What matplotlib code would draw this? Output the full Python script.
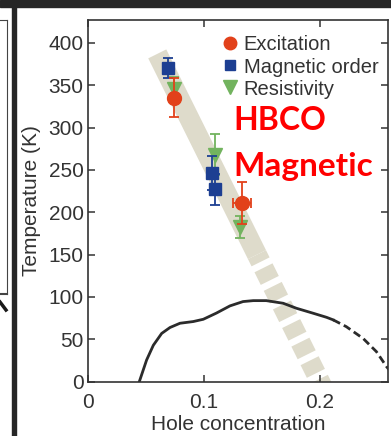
import matplotlib.pyplot as plt
from matplotlib.lines import Line2D
from matplotlib.patches import Rectangle

# Measured points (hole concentration p, temperature T in K)
exc_p = [0.074, 0.133]
exc_T = [335, 211]
exc_Terr = [23, 25]
exc_perr = [0.0, 0.008]

mag_p = [0.069, 0.107, 0.110]
mag_T = [370, 246, 227]
mag_Terr = [12, 20, 18]

res_p = [0.074, 0.110, 0.131]
res_T = [345, 268, 183]
res_Terr = [15, 24, 13]

# Superconducting dome Tc(p), solid part and extrapolated part
tc_p = [0.0445, 0.0508, 0.0566, 0.0638, 0.071, 0.0796, 0.091, 0.0997, 0.111,
        0.1227, 0.134, 0.1428, 0.154, 0.1686, 0.180, 0.1945, 0.206, 0.2117]
tc_T = [0, 25.6, 43, 57, 64, 69, 71, 73.7, 81, 89.5, 94.6, 95.7, 95.7, 92.6,
        86.7, 80.8, 76, 73]
tc_ext_p = [0.2117, 0.223, 0.2376, 0.249, 0.2578, 0.260]
tc_ext_T = [73, 65, 51, 35.5, 17.7, 14]

# Guide band through the magnetic points
band_p = [0.060, 0.146]
band_T = [387, 150]
band_dash_p = [0.146, 0.204]
band_dash_T = [150, -10]

RED = '#e2411a'
BLUE = '#1d3f92'
GREEN = '#72b35e'
BAND = '#dedbcb'
INK = '#333333'

plt.rcParams['font.family'] = ['Liberation Sans', 'DejaVu Sans']
plt.rcParams['font.size'] = 15

fig = plt.figure(figsize=(3.91, 4.36), dpi=100)

# Screen fragments around the panel
fig.patches.append(Rectangle((0, 429 / 436), 1, 7 / 436, transform=fig.transFigure,
                             color='#262626', zorder=0))
fig.patches.append(Rectangle((12 / 391, 0), 3.6 / 391, 429 / 436, transform=fig.transFigure,
                             color='#262626', zorder=0))
fig.lines.append(Line2D([6.5 / 391, 6.5 / 391], [1 - 20 / 436, 1 - 294 / 436],
                        transform=fig.transFigure, color='#444444', lw=0.8))
fig.lines.append(Line2D([0, 6.5 / 391], [1 - 20 / 436, 1 - 20 / 436],
                        transform=fig.transFigure, color='#444444', lw=0.8))
fig.lines.append(Line2D([0, 6.5 / 391], [1 - 294 / 436, 1 - 294 / 436],
                        transform=fig.transFigure, color='#444444', lw=1.5))
fig.lines.append(Line2D([0, 6 / 391], [1 - 302 / 436, 1 - 310 / 436],
                        transform=fig.transFigure, color='#1a1a1a', lw=2.5))

ax = fig.add_axes([87.7 / 391, 1 - 381.7 / 436, 300.3 / 391, 361.7 / 436])

ax.plot(band_p, band_T, color=BAND, lw=14.5, solid_capstyle='butt', zorder=1)
ax.plot(band_dash_p, band_dash_T, color=BAND, lw=14.5, dash_capstyle='butt',
        linestyle=(0.3, (0.7, 0.33)), zorder=1)

ax.plot(tc_p, tc_T, color='#2b2b2b', lw=2.0, zorder=2, solid_joinstyle='round')
ax.plot(tc_ext_p, tc_ext_T, color='#2b2b2b', lw=2.0, linestyle=(0, (2.8, 1.5)), zorder=2)

ax.errorbar(res_p, res_T, yerr=res_Terr, fmt='v', color=GREEN, ms=10, capsize=3.5,
            elinewidth=1.3, capthick=1.3, zorder=3)
ax.errorbar(mag_p, mag_T, yerr=mag_Terr, fmt='s', color=BLUE, ms=8, capsize=3.5,
            elinewidth=1.3, capthick=1.3, zorder=4)
ax.errorbar(exc_p, exc_T, yerr=exc_Terr, xerr=exc_perr, fmt='o', color=RED, ms=10,
            capsize=3.5, elinewidth=1.3, capthick=1.3, zorder=5)

handles = [
    Line2D([], [], marker='o', color=RED, ls='none', ms=9),
    Line2D([], [], marker='s', color=BLUE, ls='none', ms=7.5),
    Line2D([], [], marker='v', color=GREEN, ls='none', ms=10),
]
ax.legend(handles, ['Excitation', 'Magnetic order', 'Resistivity'],
          loc='upper left', bbox_to_anchor=(0.415, 0.985), frameon=False,
          borderpad=0, handlelength=0.8, handletextpad=0.25, labelspacing=0.15,
          labelcolor=INK, fontsize=14.5)

ax.text(0.484, 0.695, 'HBCO', transform=ax.transAxes, color='#ff0000',
        fontsize=23, fontweight='bold', family=['Lato', 'DejaVu Sans'])
ax.text(0.484, 0.57, 'Magnetic', transform=ax.transAxes, color='#ff0000',
        fontsize=24, fontweight='bold', family=['Lato', 'DejaVu Sans'])

ax.set_xlim(0, 0.259)
ax.set_ylim(0, 427)
ax.set_xticks([0, 0.1, 0.2])
ax.set_xticklabels(['0', '0.1', '0.2'])
ax.set_yticks(range(0, 401, 50))
ax.tick_params(direction='in', top=True, right=True, length=5, width=1.1,
               color=INK, labelcolor=INK, labelsize=15)
ax.tick_params(axis='x', pad=8)
ax.tick_params(axis='y', pad=3)
for s in ax.spines.values():
    s.set_linewidth(1.2)
    s.set_color(INK)

ax.set_xlabel('Hole concentration', color=INK, fontsize=15, labelpad=2)
ax.set_ylabel('Temperature (K)', color=INK, fontsize=15, labelpad=5)

fig.savefig('out.png', dpi=100)
